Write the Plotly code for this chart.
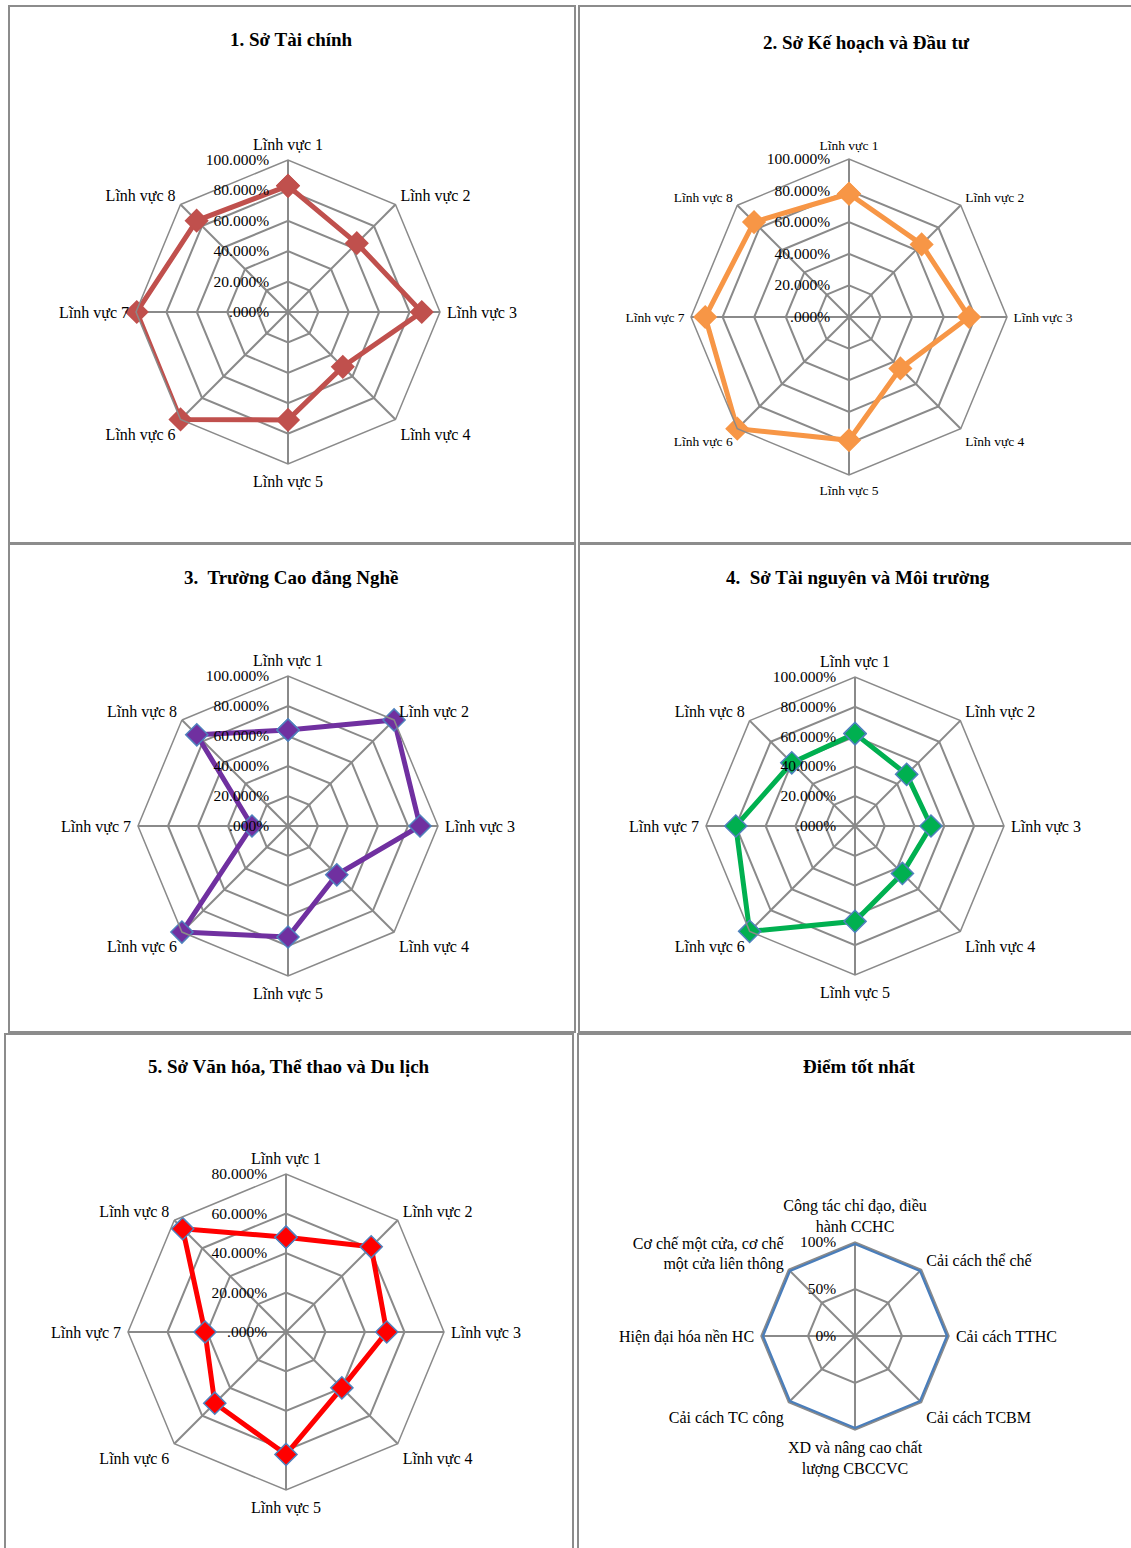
import plotly.graph_objects as go

W, H = 1131, 1548

# Field labels shared by the five agency charts
linh_vuc = ["Lĩnh vực 1", "Lĩnh vực 2", "Lĩnh vực 3", "Lĩnh vực 4",
            "Lĩnh vực 5", "Lĩnh vực 6", "Lĩnh vực 7", "Lĩnh vực 8"]

# Scores (%) per field for each agency
so_tai_chinh = [83, 64, 88, 51, 71, 100, 99.5, 85]
so_ke_hoach_dau_tu = [78, 65, 76, 46, 78, 100, 91, 85]
truong_cao_dang_nghe = [64, 100, 88, 46, 74, 100, 24, 86]
so_tai_nguyen_moi_truong = [62, 49, 51, 45, 64, 100, 80, 60]
so_van_hoa_the_thao_du_lich = [48, 61, 51, 40, 62, 51, 41, 74]

# Best-score reference chart
tieu_chi = ["Công tác chỉ đạo, điều<br>hành CCHC", "Cải cách thể chế", "Cải cách TTHC",
            "Cải cách TCBM", "XD và nâng cao chất<br>lượng CBCCVC", "Cải cách TC công",
            "Hiện đại hóa nền HC", "Cơ chế một cửa, cơ chế<br>một cửa liên thông"]
diem_tot_nhat = [100, 100, 100, 100, 100, 100, 100, 100]

ticks_100 = [0, 20, 40, 60, 80, 100]
ticks_80 = [0, 20, 40, 60, 80]
ticks_best = [0, 50, 100]


def pct_labels(vals):
    return [".000%" if v == 0 else f"{v}.000%" for v in vals]


FONT = "Liberation Serif, Times New Roman, serif"
GRID = "#8a8a8a"

panels = [
    dict(title="1. Sở Tài chính", cats=linh_vuc, vals=so_tai_chinh, color="#C0504D",
         edge="#C0504D", cx=288, cy=312, r=152, rmax=100, ticks=ticks_100,
         ttext=pct_labels(ticks_100), cfs=16, tx=291, ty=39, marker=True),
    dict(title="2. Sở Kế hoạch và Đầu tư", cats=linh_vuc, vals=so_ke_hoach_dau_tu, color="#F79646",
         edge="#F79646", cx=849, cy=317, r=158, rmax=100, ticks=ticks_100,
         ttext=pct_labels(ticks_100), cfs=13.5, tx=866, ty=42, marker=True),
    dict(title="3.  Trường Cao đẳng Nghề", cats=linh_vuc, vals=truong_cao_dang_nghe, color="#7030A0",
         edge="#4F81BD", cx=288, cy=826, r=150, rmax=100, ticks=ticks_100,
         ttext=pct_labels(ticks_100), cfs=16, tx=291, ty=577, marker=True),
    dict(title="4.  Sở Tài nguyên và Môi trường", cats=linh_vuc, vals=so_tai_nguyen_moi_truong,
         color="#00B050", edge="#4F81BD", cx=855, cy=826, r=149, rmax=100, ticks=ticks_100,
         ttext=pct_labels(ticks_100), cfs=16, tx=858, ty=577, marker=True),
    dict(title="5. Sở Văn hóa, Thể thao và Du lịch", cats=linh_vuc, vals=so_van_hoa_the_thao_du_lich,
         color="#FF0000", edge="#4F81BD", cx=286, cy=1332, r=158, rmax=80, ticks=ticks_80,
         ttext=pct_labels(ticks_80), cfs=16, tx=289, ty=1066, marker=True),
    dict(title="Điểm tốt nhất", cats=tieu_chi, vals=diem_tot_nhat, color="#4A7EBB",
         edge="#4A7EBB", cx=855, cy=1336, r=94, rmax=100, ticks=ticks_best,
         ttext=[f"{v}%" for v in ticks_best], cfs=16, tx=859, ty=1066, marker=False),
]

fig = go.Figure()
layout_updates = {}
annotations = []

for i, p in enumerate(panels, start=1):
    key = "polar" if i == 1 else f"polar{i}"
    theta = p["cats"] + [p["cats"][0]]
    rvals = p["vals"] + [p["vals"][0]]
    fig.add_trace(go.Scatterpolar(
        r=rvals, theta=theta, subplot=key,
        mode="lines+markers" if p["marker"] else "lines",
        line=dict(color=p["color"], width=5 if p["marker"] else 6),
        marker=dict(symbol="diamond", size=17, color=p["color"],
                    line=dict(color=p["edge"], width=1.5)),
        showlegend=False, hoverinfo="skip",
    ))
    cx, cy, r = p["cx"], p["cy"], p["r"]
    layout_updates[key] = dict(
        domain=dict(x=[(cx - r) / W, (cx + r) / W], y=[1 - (cy + r) / H, 1 - (cy - r) / H]),
        gridshape="linear",
        bgcolor="rgba(0,0,0,0)",
        angularaxis=dict(
            categoryorder="array", categoryarray=p["cats"],
            direction="clockwise", rotation=90,
            showline=True, linecolor=GRID, linewidth=1.5,
            showgrid=True, gridcolor=GRID, gridwidth=1.5,
            ticks="outside", ticklen=3, tickcolor="rgba(0,0,0,0)",
            tickfont=dict(family=FONT, size=p["cfs"], color="#000000"),
        ),
        radialaxis=dict(
            range=[0, p["rmax"]], tickvals=p["ticks"], ticktext=p["ttext"],
            angle=90, tickangle=90, side="counterclockwise",
            showline=False, ticks="outside", ticklen=13, tickcolor="rgba(0,0,0,0)",
            showgrid=True, gridcolor=GRID, gridwidth=1.5,
            tickfont=dict(family=FONT, size=15.5, color="#000000"),
        ),
    )
    annotations.append(dict(
        text=f"<b>{p['title']}</b>", x=p["tx"] / W, y=1 - p["ty"] / H,
        xref="paper", yref="paper", xanchor="center", yanchor="middle",
        showarrow=False, font=dict(family=FONT, size=19, color="#000000"),
    ))

# Panel frames
frames_px = [
    (9, 6, 575, 543), (579, 6, 1140, 543),
    (9, 544, 575, 1032), (579, 544, 1140, 1032),
    (5, 1034, 573, 1560), (578, 1034, 1140, 1560),
]
shapes = [dict(type="rect", xref="paper", yref="paper",
               x0=x0 / W, x1=x1 / W, y0=1 - y1 / H, y1=1 - y0 / H,
               line=dict(color="#8c8c8c", width=2), fillcolor="rgba(0,0,0,0)", layer="below")
          for x0, y0, x1, y1 in frames_px]

fig.update_layout(
    width=W, height=H, margin=dict(l=0, r=0, t=0, b=0),
    paper_bgcolor="white", plot_bgcolor="white",
    font=dict(family=FONT, color="#000000"),
    annotations=annotations, shapes=shapes, showlegend=False,
    **layout_updates,
)

fig.write_html("out.html")
